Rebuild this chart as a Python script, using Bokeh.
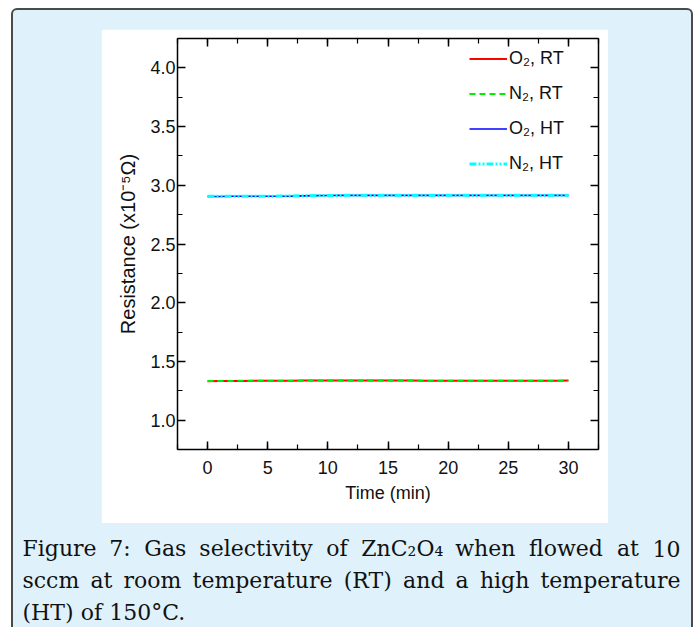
from bokeh.plotting import figure
from bokeh.models import (Range1d, LinearAxis, SingleIntervalTicker, Legend,
                          LegendItem, PrintfTickFormatter, Spacer,
                          CustomLabelingPolicy)
from bokeh.layouts import column, row
from bokeh.embed import file_html
from bokeh.resources import INLINE
from bokeh.core.properties import value

# ---------------- data ----------------
time_min = list(range(0, 31))
o2_rt = [1.332, 1.333, 1.334, 1.334, 1.335, 1.335, 1.336, 1.336, 1.337, 1.337,
         1.337, 1.338, 1.338, 1.338, 1.338, 1.337, 1.337, 1.337, 1.336, 1.336,
         1.336, 1.336, 1.336, 1.336, 1.335, 1.335, 1.335, 1.336, 1.336, 1.336, 1.337]
n2_rt = [1.333, 1.333, 1.334, 1.335, 1.335, 1.336, 1.336, 1.336, 1.337, 1.337,
         1.338, 1.338, 1.338, 1.338, 1.337, 1.337, 1.337, 1.337, 1.336, 1.336,
         1.336, 1.335, 1.335, 1.335, 1.335, 1.335, 1.336, 1.336, 1.336, 1.336, 1.336]
o2_ht = [2.905, 2.905, 2.906, 2.906, 2.906, 2.907, 2.907, 2.908, 2.910, 2.912,
         2.913, 2.914, 2.914, 2.914, 2.914, 2.914, 2.914, 2.914, 2.914, 2.914,
         2.914, 2.914, 2.914, 2.914, 2.914, 2.914, 2.914, 2.914, 2.914, 2.914, 2.914]
n2_ht = [2.906, 2.906, 2.906, 2.907, 2.907, 2.907, 2.908, 2.909, 2.911, 2.912,
         2.913, 2.914, 2.915, 2.915, 2.915, 2.915, 2.915, 2.915, 2.915, 2.915,
         2.915, 2.915, 2.915, 2.915, 2.915, 2.915, 2.915, 2.915, 2.915, 2.915, 2.915]
series_labels = ["O\u2082, RT", "N\u2082, RT", "O\u2082, HT", "N\u2082, HT"]
x_label = "Time (min)"
y_label = "Resistance (x10\u207b\u2075\u03a9)"
caption_lines = [
    "Figure 7: Gas selectivity of ZnC\u2082O\u2084 when flowed at 10",
    "sccm at room temperature (RT) and a high temperature",
    "(HT) of 150\u00b0C.",
]

SANS = "Liberation Sans"
PANEL = "#dff1fb"

# ---------------- chart ----------------
p = figure(width=507, height=494, x_range=Range1d(-2.5, 32.5),
           y_range=Range1d(0.75, 4.25), output_backend="svg",
           toolbar_location=None, x_axis_type=None, y_axis_type=None,
           min_border_left=76, min_border_right=10, min_border_top=9,
           min_border_bottom=74, background_fill_color="white",
           border_fill_color="white", outline_line_color=None)
p.grid.visible = False

hide_all = CustomLabelingPolicy(code="""
for (const i of Array.from(indices)) indices.unset(i)
""")


def style_axis(ax, show_labels):
    ax.axis_line_width = 1.5
    ax.axis_line_color = "black"
    ax.major_tick_line_width = 1.5
    ax.minor_tick_line_width = 1.2
    ax.major_tick_in = 8
    ax.major_tick_out = 0
    ax.minor_tick_in = 5
    ax.minor_tick_out = 0
    ax.major_label_text_font = SANS
    ax.major_label_text_color = "#111111"
    if show_labels:
        ax.major_label_text_font_size = "18px"
    else:
        ax.major_label_text_font_size = "1px"
        ax.major_label_standoff = 0
        ax.major_label_policy = hide_all


xb = LinearAxis(ticker=SingleIntervalTicker(interval=5, num_minor_ticks=2),
                axis_label=x_label)
style_axis(xb, True)
xb.major_label_standoff = 11
xb.axis_label_standoff = 6
xb.axis_label_text_font = SANS
xb.axis_label_text_font_size = "18px"
xb.axis_label_text_font_style = "normal"
xb.axis_label_text_color = "#111111"
p.add_layout(xb, "below")

xt = LinearAxis(ticker=SingleIntervalTicker(interval=5, num_minor_ticks=2))
style_axis(xt, False)
p.add_layout(xt, "above")

yl = LinearAxis(ticker=SingleIntervalTicker(interval=0.5, num_minor_ticks=2),
                formatter=PrintfTickFormatter(format="%.1f"), axis_label=y_label)
style_axis(yl, True)
yl.major_label_standoff = 2
yl.axis_label_standoff = 8
yl.axis_label_text_font = SANS
yl.axis_label_text_font_size = "20px"
yl.axis_label_text_font_style = "normal"
yl.axis_label_text_color = "#111111"
p.add_layout(yl, "left")

yr = LinearAxis(ticker=SingleIntervalTicker(interval=0.5, num_minor_ticks=2))
style_axis(yr, False)
p.add_layout(yr, "right")

r1 = p.line(time_min, o2_rt, line_color="#ff0000", line_width=2)
r2 = p.line(time_min, n2_rt, line_color="#00ee00", line_width=2, line_dash="6 4")
r3 = p.line(time_min, o2_ht, line_color="#0000ff", line_width=1.6)
r4 = p.line(time_min, n2_ht, line_color="#00ffff", line_width=3,
            line_dash="7 2 2 2 2 2")

legend = Legend(items=[LegendItem(label=series_labels[i], renderers=[r])
                       for i, r in enumerate([r1, r2, r3, r4])],
                location=(292, 275), glyph_width=38, glyph_height=21,
                label_height=21, spacing=14, padding=0, margin=0,
                label_standoff=2, border_line_alpha=0,
                background_fill_alpha=0, label_text_font=SANS,
                label_text_font_size="18px", label_text_color="#111111")
p.add_layout(legend)

# ---------------- caption ----------------
CAP_W, CAP_H = 678, 104
cap = figure(width=CAP_W, height=CAP_H, x_range=Range1d(0, CAP_W),
             y_range=Range1d(CAP_H, 0), output_backend="svg",
             toolbar_location=None, x_axis_type=None, y_axis_type=None,
             min_border=0, background_fill_color=PANEL,
             border_fill_color=PANEL, outline_line_color=None)
cap.grid.visible = False

# approximate DejaVu Serif advance widths (em) for justification
W = {" ": .318, "(": .390, ")": .390, ",": .318, ".": .318, ":": .337,
     "\u00b0": .500, "\u2082": .40, "\u2084": .40,
     "C": .734, "F": .653, "G": .775, "H": .872, "O": .787, "R": .734,
     "T": .678, "Z": .686,
     "a": .596, "c": .560, "d": .640, "e": .592, "f": .370, "g": .640,
     "h": .644, "i": .320, "l": .320, "m": .948, "n": .644, "o": .602,
     "p": .640, "r": .478, "s": .513, "t": .402, "u": .644, "v": .565,
     "w": .856, "y": .565}
FS = 22


def wwidth(word):
    return sum(W.get(ch, .636 if ch.isdigit() else .6) for ch in word) * FS


left, right = 9, 667
baselines = [25, 57, 89]
tx, ty, tt = [], [], []
for li, line in enumerate(caption_lines):
    words = line.split(" ")
    widths = [wwidth(w) for w in words]
    if li < len(caption_lines) - 1:
        gap = (right - left - sum(widths)) / (len(words) - 1)
    else:
        gap = W[" "] * FS
    x = left
    for w, wd in zip(words, widths):
        tx.append(x)
        ty.append(baselines[li])
        tt.append(w)
        x += wd + gap
cap.text(x=tx, y=ty, text=tt, text_font=value("DejaVu Serif"),
         text_font_size="22px", text_color="#111111",
         text_baseline="alphabetic", text_align="left")

layout = column(Spacer(width=CAP_W, height=19),
                row(Spacer(width=88, height=494), p),
                cap, spacing=0, margin=(8, 0, 0, 11),
                styles={"background-color": PANEL,
                        "border": "2px solid #4a4a4a",
                        "border-bottom": "none",
                        "border-radius": "6px 6px 0 0"})

open("out.html", "w").write(file_html(layout, INLINE))
